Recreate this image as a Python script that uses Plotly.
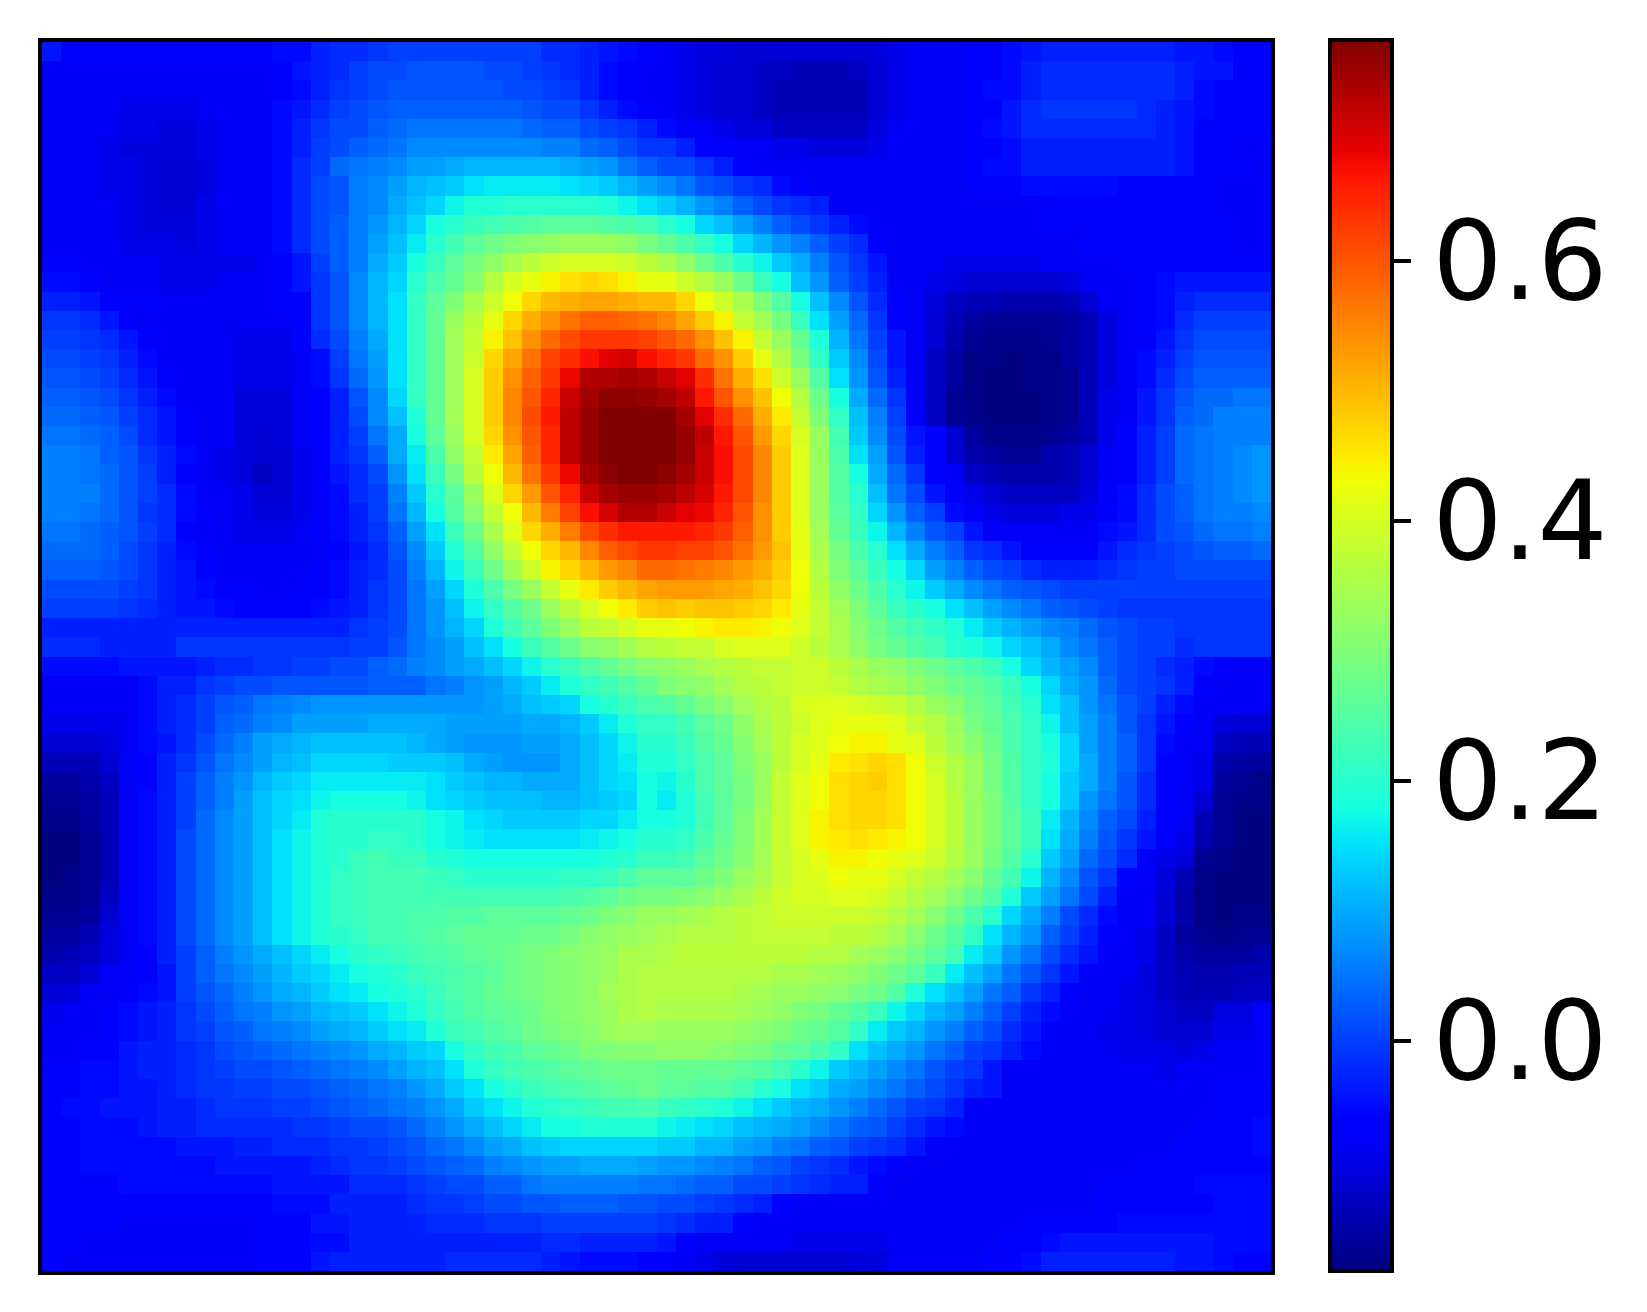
import plotly.graph_objects as go

TICK_VALUES = [0.0, 0.2, 0.4, 0.6]
TICK_LABELS = ["0.0", "0.2", "0.4", "0.6"]
Z_MIN = -0.177
Z_MAX = 0.77

# matplotlib's jet, written as plotly stops
JET = [
    [0.0, "rgb(0,0,128)"], [0.11, "rgb(0,0,255)"], [0.125, "rgb(0,0,255)"],
    [0.34, "rgb(0,219,255)"], [0.35, "rgb(0,230,247)"], [0.375, "rgb(21,255,226)"],
    [0.64, "rgb(238,255,8)"], [0.65, "rgb(247,246,0)"], [0.66, "rgb(255,236,0)"],
    [0.89, "rgb(255,19,0)"], [0.91, "rgb(232,0,0)"], [1.0, "rgb(128,0,0)"],
]

rows = [
 [-4,-7,-7,-7,-7,-7,-7,-7,-7,-7,-7,-6,-5,-5,-3,-2,-2,-1,0,0,0,0,0,0,0,0,-2,-2,-3,-4,-5,-6, -8,-9,-10,-10,-11,-11,-11,-11,-11,-11,-11,-10,-9,-8,-8,-8,-7,-6,-5,-4,-3,-3,-3,-3,-3,-3,-3,-4,-4,-5,-6,-7],
 [-8,-8,-8,-8,-8,-8,-8,-8,-8,-8,-8,-8,-6,-4,-3,-2,0,1,1,2,2,2,2,1,1,0,-1,-2,-3,-5,-7,-8, -8,-9,-10,-11,-11,-12,-12,-13,-13,-13,-12,-11,-9,-8,-8,-8,-6,-6,-5,-3,-2,-2,-2,-2,-2,-2,-2,-3,-4,-4,-6,-7],
 [-8,-8,-8,-8,-8,-8,-8,-8,-8,-8,-8,-8,-6,-5,-3,-1,0,1,2,2,2,2,2,2,1,1,0,-1,-3,-5,-7,-8, -8,-9,-10,-11,-11,-12,-13,-13,-13,-13,-13,-11,-9,-8,-8,-8,-6,-5,-5,-3,-2,-2,-2,-2,-2,-2,-2,-3,-5,-6,-7,-7],
 [-8,-8,-8,-8,-9,-9,-9,-9,-8,-8,-8,-8,-5,-4,-2,0,1,2,3,3,3,3,3,3,3,2,1,1,-1,-3,-5,-7, -8,-9,-10,-11,-11,-12,-13,-13,-13,-13,-13,-11,-9,-8,-8,-8,-6,-6,-4,-2,-1,-1,-1,-1,-1,-2,-3,-4,-5,-6,-7,-7],
 [-8,-8,-8,-8,-9,-9,-10,-10,-9,-8,-8,-8,-5,-3,-1,1,1,3,4,5,5,5,5,5,5,4,3,3,1,0,-1,-3, -5,-8,-8,-9,-10,-10,-12,-12,-12,-12,-12,-10,-8,-8,-8,-8,-6,-5,-4,-2,-2,-2,-2,-2,-2,-2,-3,-4,-7,-7,-7,-7],
 [-8,-8,-8,-9,-10,-10,-10,-10,-9,-8,-8,-8,-5,-3,0,1,3,4,5,7,7,7,7,7,7,7,6,6,4,3,1,-1, -1,-3,-6,-7,-8,-8,-9,-9,-10,-10,-10,-9,-8,-8,-8,-8,-7,-6,-5,-3,-3,-3,-3,-3,-3,-3,-3,-4,-7,-7,-8,-8],
 [-8,-8,-8,-9,-9,-10,-11,-11,-10,-8,-8,-8,-5,-2,0,4,5,6,7,9,9,10,11,11,11,11,11,10,9,8,5,3, 1,1,-1,-3,-6,-8,-8,-8,-8,-8,-8,-8,-8,-8,-8,-8,-6,-5,-5,-3,-3,-3,-3,-3,-3,-3,-3,-4,-7,-7,-7,-8],
 [-8,-8,-8,-9,-9,-10,-11,-11,-10,-8,-8,-8,-5,-2,1,2,6,7,9,11,12,13,15,16,16,16,16,15,14,13,11,9, 7,5,2,1,-1,-2,-5,-6,-8,-8,-8,-8,-8,-8,-8,-8,-7,-7,-7,-5,-5,-5,-5,-5,-6,-6,-6,-6,-7,-8,-8,-8],
 [-8,-8,-8,-8,-9,-10,-11,-11,-9,-8,-8,-8,-5,-2,1,2,6,7,10,12,14,17,19,19,20,20,20,20,20,19,17,15, 13,11,8,6,3,1,-1,-2,-3,-8,-8,-8,-8,-8,-8,-8,-8,-8,-8,-8,-7,-7,-7,-7,-7,-7,-7,-7,-7,-8,-8,-8],
 [-8,-8,-8,-8,-9,-10,-10,-10,-9,-8,-8,-8,-5,-2,1,3,6,8,11,14,18,20,22,23,24,25,26,26,26,25,24,23, 20,18,14,12,9,6,3,1,-1,-3,-5,-8,-8,-8,-8,-8,-8,-8,-8,-8,-7,-7,-7,-7,-7,-7,-7,-7,-7,-7,-8,-8],
 [-8,-8,-8,-8,-9,-9,-9,-10,-9,-8,-8,-8,-5,-2,1,3,6,9,12,16,20,23,26,28,30,31,32,33,33,33,32,29, 27,24,21,18,14,11,8,6,3,0,-2,-7,-8,-8,-8,-8,-8,-8,-8,-8,-8,-8,-7,-7,-7,-7,-7,-7,-7,-7,-8,-8],
 [-6,-6,-8,-8,-8,-8,-9,-9,-9,-9,-9,-8,-7,-4,0,3,6,10,13,18,22,26,29,32,35,37,39,40,40,40,39,37, 35,32,28,24,20,17,13,10,6,2,-1,-4,-8,-8,-8,-9,-9,-9,-9,-9,-8,-8,-8,-8,-6,-6,-6,-6,-6,-6,-6,-6],
 [-5,-5,-7,-8,-8,-8,-9,-9,-9,-8,-8,-8,-7,-4,-1,2,7,11,14,20,24,27,31,36,40,42,44,46,47,46,44,42, 42,39,36,33,28,22,18,12,8,3,0,-3,-8,-8,-9,-10,-11,-11,-11,-11,-11,-10,-8,-8,-8,-7,-5,-4,-4,-4,-4,-4],
 [-3,-3,-4,-6,-7,-7,-8,-8,-8,-8,-8,-8,-7,-6,-1,2,7,11,15,21,26,30,35,39,43,47,50,51,52,52,51,50, 50,47,43,39,35,30,25,18,12,7,2,-2,-7,-8,-10,-12,-13,-13,-14,-14,-14,-13,-11,-8,-8,-7,-5,-3,-2,-2,-2,-2],
 [-1,-1,-2,-4,-6,-8,-8,-8,-8,-8,-8,-8,-8,-6,-1,2,7,11,15,21,27,33,37,42,47,51,54,57,59,59,58,57, 55,52,48,44,38,34,29,22,15,9,4,-1,-6,-8,-11,-13,-15,-16,-16,-16,-16,-15,-13,-10,-8,-7,-5,-2,0,0,0,0],
 [0,0,-1,-2,-4,-7,-8,-8,-8,-8,-9,-9,-9,-7,-2,1,6,10,15,21,27,34,38,44,49,54,58,61,63,63,63,62, 60,58,54,49,44,38,33,27,19,11,5,0,-4,-8,-11,-14,-16,-17,-17,-17,-16,-15,-13,-10,-8,-6,-4,-1,1,1,1,1],
 [1,1,0,-1,-3,-5,-8,-8,-8,-8,-9,-9,-9,-8,-5,0,5,9,15,21,27,34,39,47,52,57,62,64,67,69,70,67, 65,63,58,54,48,42,36,29,21,13,7,1,-4,-8,-12,-15,-17,-17,-18,-17,-17,-15,-13,-10,-8,-5,-3,0,2,2,2,2],
 [2,2,1,0,-2,-4,-7,-8,-8,-8,-9,-9,-9,-8,-5,-1,4,8,15,21,27,34,40,48,54,59,63,68,73,73,74,73, 71,69,64,57,51,46,39,33,25,15,8,2,-3,-8,-12,-15,-17,-18,-18,-17,-17,-16,-13,-10,-8,-5,-2,1,3,3,3,3],
 [3,3,2,1,-1,-3,-5,-8,-8,-8,-10,-10,-10,-8,-7,-3,2,7,14,21,27,34,40,48,55,60,65,71,74,76,76,75, 74,72,66,60,54,49,43,36,28,18,10,4,-1,-8,-12,-16,-17,-18,-18,-18,-17,-16,-13,-9,-8,-4,-1,2,4,4,5,5],
 [4,4,3,2,0,-2,-4,-7,-8,-8,-10,-10,-10,-8,-7,-3,1,7,12,19,27,34,40,48,55,61,66,72,75,77,77,77, 77,74,69,64,58,51,45,38,30,21,12,6,0,-6,-12,-16,-17,-18,-18,-18,-17,-16,-13,-9,-8,-4,-1,3,4,6,6,6],
 [5,5,4,3,1,-2,-4,-7,-8,-8,-10,-11,-10,-8,-7,-3,0,5,10,18,26,33,40,47,54,60,65,72,75,77,78,78, 78,75,72,66,60,53,47,40,33,23,13,7,1,-4,-7,-11,-15,-17,-17,-17,-16,-15,-13,-9,-7,-3,0,4,5,6,6,6],
 [6,6,5,3,2,-1,-3,-5,-8,-9,-10,-11,-11,-9,-7,-3,-1,3,10,16,24,32,38,45,52,59,65,72,75,77,78,78, 77,75,71,67,61,55,48,41,33,24,15,9,2,-3,-7,-11,-14,-15,-16,-16,-14,-13,-11,-8,-7,-3,0,4,5,6,7,8],
 [6,6,5,4,2,0,-3,-6,-8,-9,-10,-12,-11,-9,-7,-4,-2,1,8,15,22,29,37,43,50,57,63,68,74,76,77,77, 76,74,71,67,61,55,48,41,33,25,18,10,4,-1,-7,-8,-12,-13,-14,-14,-14,-13,-11,-8,-6,-3,0,4,5,6,7,8],
 [6,6,6,4,2,0,-2,-5,-8,-8,-9,-11,-11,-9,-7,-5,-2,0,6,13,20,26,33,41,47,53,60,65,71,74,75,75, 74,72,70,66,61,55,48,41,33,25,20,12,5,1,-4,-8,-9,-11,-12,-12,-12,-12,-10,-8,-5,-2,1,3,5,6,7,8],
 [6,6,5,4,2,-1,-2,-5,-7,-8,-9,-10,-10,-9,-7,-5,-3,0,5,11,18,25,31,38,43,50,56,62,67,70,73,73, 71,69,68,65,60,54,48,41,33,26,21,14,8,3,0,-5,-8,-9,-10,-10,-10,-9,-9,-6,-5,-2,1,3,5,6,6,7],
 [5,5,4,3,2,0,-2,-6,-8,-8,-9,-9,-9,-8,-7,-5,-3,-1,3,9,15,22,28,35,41,47,51,56,61,64,66,66, 66,66,65,63,59,54,48,42,34,27,22,17,11,6,2,0,-4,-8,-8,-8,-8,-8,-8,-5,-4,-2,1,2,4,5,5,6],
 [4,4,4,3,1,-1,-3,-5,-7,-8,-8,-8,-8,-8,-8,-6,-4,-2,2,7,13,19,25,32,38,43,47,50,55,59,61,63, 63,62,62,60,57,53,49,42,35,29,24,20,15,10,6,3,-1,-2,-4,-6,-7,-6,-6,-4,-2,-1,0,1,2,3,3,4],
 [3,3,3,2,1,-1,-3,-4,-6,-8,-8,-8,-8,-8,-7,-5,-3,-2,1,6,11,17,22,28,34,39,44,47,50,53,55,58, 58,57,56,55,53,51,48,43,36,30,26,22,18,14,9,6,3,1,0,-2,-3,-3,-3,-2,-1,0,0,1,1,1,1,1],
 [1,1,1,1,0,-1,-3,-4,-5,-7,-7,-8,-8,-7,-6,-5,-3,-1,1,5,9,14,19,24,29,33,38,42,45,48,50,52, 53,53,53,52,51,49,47,43,37,32,28,24,20,17,13,10,7,5,3,2,1,0,0,0,0,0,0,0,0,0,0,0],
 [0,0,0,0,-1,-2,-3,-4,-4,-5,-6,-6,-6,-6,-5,-4,-3,-1,1,5,8,12,17,21,25,28,33,37,40,43,45,48, 49,48,49,49,48,47,45,42,38,34,30,26,22,20,18,15,12,9,7,5,3,2,1,0,-1,-1,-1,-1,-1,-1,-1,-1],
 [-3,-3,-3,-3,-3,-3,-3,-3,-3,-3,-3,-3,-3,-3,-3,-3,-1,0,1,5,8,11,14,19,23,26,30,33,37,38,40,42, 42,43,44,45,45,44,43,41,38,35,31,28,25,23,21,19,16,13,11,9,7,6,4,2,1,0,0,-1,-1,-1,-1,-1],
 [-2,-2,-2,-3,-3,-3,-3,-1,-1,-1,-1,-1,-1,-1,-1,-1,0,0,2,5,7,9,12,15,18,22,25,28,31,32,34,36, 37,38,38,40,41,41,41,39,37,35,32,29,27,25,23,20,19,17,14,12,10,7,5,3,1,0,0,-2,-1,-1,-1,-1],
 [-5,-5,-5,-5,-4,-4,-4,-4,-3,-2,-2,-1,-1,0,0,1,1,3,4,6,7,9,10,12,14,17,20,22,25,27,29,31, 32,33,35,36,37,38,38,39,39,37,35,33,32,30,28,26,24,22,18,14,11,9,7,3,1,0,-2,-3,-5,-7,-8,-8],
 [-8,-8,-8,-8,-8,-5,-3,-3,-1,0,1,1,2,2,2,2,2,3,3,3,5,6,8,9,11,13,16,19,21,23,25,27, 30,31,32,34,36,37,38,39,39,38,36,35,34,32,30,28,27,25,22,18,14,10,8,4,1,0,-1,-3,-7,-8,-8,-8],
 [-8,-8,-8,-8,-8,-5,-3,-2,0,2,3,5,6,7,8,8,8,8,8,8,8,8,8,9,10,12,13,14,18,20,22,24, 25,27,29,31,34,36,37,40,41,41,40,39,38,36,33,31,28,26,23,20,15,12,8,5,2,0,-3,-5,-8,-8,-8,-8],
 [-9,-9,-9,-9,-8,-5,-3,-2,0,3,4,6,7,9,9,9,9,10,10,10,10,9,9,9,9,10,10,11,13,16,19,21, 21,23,26,28,32,35,37,39,41,42,42,42,41,38,36,33,29,27,24,21,17,12,9,6,2,-1,-4,-6,-8,-10,-11,-11],
 [-11,-11,-11,-10,-8,-5,-4,-2,1,4,6,9,10,11,12,12,12,12,12,11,10,9,8,8,8,9,9,10,12,14,17,20, 20,22,25,27,31,34,37,40,41,43,44,44,42,41,37,34,31,28,24,21,18,14,9,6,3,-1,-5,-8,-8,-12,-13,-13],
 [-13,-13,-13,-11,-8,-6,-3,-1,2,5,7,9,11,12,14,14,14,14,13,13,13,12,10,9,8,8,8,10,12,14,16,19, 19,21,24,26,30,33,37,40,42,45,46,47,46,43,39,36,33,29,25,21,19,14,10,6,3,-1,-6,-8,-9,-14,-15,-15],
 [-15,-15,-14,-12,-8,-6,-3,0,3,6,8,11,13,14,16,16,16,16,16,16,15,13,12,11,11,10,10,10,12,14,15,18, 17,20,24,26,29,33,38,41,43,46,47,48,46,43,40,36,33,29,25,21,18,13,10,6,2,-2,-6,-8,-9,-15,-16,-17],
 [-16,-16,-15,-13,-8,-5,-3,0,3,6,9,12,14,15,17,18,18,18,18,17,15,14,13,12,12,12,11,11,12,13,14,18, 16,19,23,26,29,33,38,41,43,46,47,47,46,43,40,37,33,30,25,21,18,13,8,5,2,-2,-6,-8,-11,-16,-17,-17],
 [-17,-17,-15,-13,-8,-5,-3,0,4,7,9,12,14,16,19,20,20,20,20,20,18,17,15,14,13,13,13,13,14,14,16,18, 18,19,23,26,30,34,38,41,44,46,47,47,46,43,40,37,33,30,26,22,16,11,7,3,1,-3,-7,-8,-13,-16,-18,-18],
 [-18,-18,-16,-13,-8,-5,-3,1,4,7,9,12,15,17,19,20,20,21,21,20,18,17,16,15,15,15,15,15,16,17,18,20, 20,21,24,27,30,34,38,41,44,45,46,45,44,43,40,37,33,30,26,22,15,10,6,2,-1,-4,-7,-9,-14,-16,-18,-18],
 [-18,-18,-16,-13,-8,-5,-3,1,4,7,9,12,15,17,19,20,22,23,22,22,20,19,18,18,18,18,18,18,18,19,20,22, 22,23,26,28,31,34,38,40,42,44,44,43,42,41,39,36,33,29,25,20,13,9,4,1,-2,-8,-9,-10,-16,-17,-18,-18],
 [-18,-17,-16,-13,-8,-5,-3,1,4,7,9,12,15,17,19,21,22,23,23,23,22,21,20,20,20,20,20,21,21,22,24,26, 26,26,28,30,33,35,38,40,41,43,42,42,40,38,36,34,31,27,23,17,11,7,2,-1,-7,-8,-10,-13,-17,-18,-18,-18],
 [-17,-17,-16,-12,-8,-5,-3,1,4,7,9,12,15,17,19,21,22,23,23,23,23,23,23,23,23,23,23,24,25,26,28,29, 29,30,31,33,35,37,39,40,40,41,41,40,38,36,34,31,28,25,19,13,9,5,1,-3,-8,-8,-11,-14,-17,-18,-18,-18],
 [-16,-16,-15,-11,-8,-5,-3,1,4,7,9,12,15,17,19,21,22,23,23,24,24,25,25,26,26,26,26,27,28,30,31,33, 33,34,35,36,37,38,39,39,39,39,39,38,36,34,31,28,24,20,14,10,6,1,-2,-5,-8,-8,-11,-14,-17,-18,-17,-17],
 [-15,-15,-13,-10,-8,-5,-3,1,4,7,9,12,15,17,19,20,21,23,23,24,25,26,27,27,27,28,28,29,31,32,33,34, 35,36,36,36,37,38,38,38,38,37,37,36,34,31,28,25,21,15,11,8,3,0,-3,-7,-8,-9,-12,-15,-16,-17,-16,-16],
 [-14,-13,-12,-10,-8,-6,-3,0,3,6,8,10,12,14,16,18,20,21,22,23,24,25,26,27,28,29,30,31,32,33,35,35, 36,37,37,37,37,37,37,37,36,36,34,33,31,29,26,23,16,13,8,5,1,-2,-4,-8,-8,-9,-12,-14,-15,-15,-15,-14],
 [-12,-12,-11,-8,-8,-6,-4,0,3,5,7,9,11,13,14,16,18,19,20,22,23,24,25,26,28,29,30,31,32,33,35,36, 36,36,36,36,36,36,35,35,34,33,32,30,28,26,22,16,12,9,5,2,-1,-4,-8,-8,-8,-10,-12,-13,-14,-14,-13,-13],
 [-11,-10,-8,-8,-7,-5,-4,0,2,4,6,8,10,11,13,15,16,18,19,20,22,24,25,27,28,29,30,31,32,34,35,36, 36,36,36,36,35,34,33,33,32,31,29,28,25,19,15,12,9,5,3,-1,-3,-6,-8,-8,-9,-10,-12,-13,-13,-13,-12,-12],
 [-9,-8,-8,-7,-5,-4,-3,-1,1,3,5,6,8,9,11,12,13,15,17,19,21,23,25,26,27,28,30,31,32,33,35,36, 35,35,35,35,34,33,32,30,29,27,25,22,17,14,11,9,6,3,0,-3,-5,-8,-8,-8,-9,-10,-11,-12,-12,-10,-10,-8],
 [-8,-8,-8,-6,-5,-4,-3,-1,0,2,3,5,6,7,9,10,11,13,15,16,19,22,23,25,26,28,29,30,31,33,34,34, 33,33,33,33,32,31,30,28,27,25,21,16,13,11,8,6,3,1,-2,-4,-8,-8,-8,-9,-9,-10,-11,-11,-11,-9,-9,-8],
 [-8,-8,-7,-6,-4,-3,-3,-2,-1,1,2,3,4,5,6,7,8,10,11,13,14,18,21,23,24,26,27,28,30,30,31,31, 32,32,32,31,30,29,27,26,24,21,15,12,10,8,5,3,0,-1,-3,-5,-8,-8,-8,-8,-9,-9,-9,-10,-9,-8,-8,-8],
 [-7,-6,-5,-5,-4,-3,-3,-2,-1,0,1,1,2,3,4,5,6,7,9,11,12,15,19,21,23,24,25,26,27,28,28,28, 27,27,27,27,26,25,23,20,17,13,11,9,7,5,2,0,-1,-4,-8,-8,-8,-8,-8,-8,-8,-8,-9,-8,-8,-8,-8,-8],
 [-6,-6,-5,-5,-4,-4,-3,-2,-1,-1,0,0,1,1,2,3,4,5,6,8,10,13,15,18,20,22,23,24,25,26,27,28, 26,26,25,25,23,20,18,15,13,10,9,7,5,3,1,-1,-3,-4,-8,-8,-8,-8,-8,-8,-8,-8,-8,-8,-8,-7,-7,-6],
 [-6,-5,-5,-4,-4,-4,-3,-3,-2,-1,-1,-1,0,0,1,2,3,4,5,6,8,10,13,15,17,19,20,21,22,23,23,24, 22,21,20,19,17,15,13,11,10,8,6,4,2,0,-1,-3,-8,-8,-8,-8,-8,-8,-8,-8,-8,-8,-8,-8,-8,-7,-6,-6],
 [-6,-6,-5,-5,-5,-4,-3,-3,-2,-2,-2,-2,-2,-1,-1,0,1,1,2,4,6,8,10,12,14,16,18,18,19,19,19,19, 17,16,15,14,12,11,10,9,7,5,3,2,0,-2,-4,-5,-8,-8,-8,-8,-8,-8,-8,-8,-8,-8,-8,-8,-7,-7,-6,-5],
 [-6,-6,-5,-5,-5,-5,-5,-4,-4,-4,-3,-3,-2,-2,-2,-1,-1,0,1,2,4,5,7,9,10,12,13,14,14,14,14,14, 13,13,11,11,9,8,6,5,3,2,0,-1,-2,-4,-7,-8,-8,-8,-8,-8,-8,-8,-8,-8,-8,-8,-8,-7,-7,-6,-6,-5],
 [-6,-6,-5,-5,-5,-5,-5,-5,-5,-4,-4,-4,-4,-4,-3,-2,-1,-1,0,1,2,3,4,6,7,8,9,9,10,10,10,9, 8,8,7,6,5,3,2,0,-1,-2,-4,-5,-7,-8,-8,-8,-8,-8,-8,-8,-8,-8,-8,-8,-8,-7,-7,-7,-7,-6,-6,-6],
 [-6,-6,-6,-6,-5,-5,-5,-5,-5,-5,-5,-5,-4,-4,-4,-4,-2,-2,-2,-1,0,1,1,3,3,5,6,6,6,6,6,5, 5,4,3,3,1,1,0,-1,-2,-3,-3,-7,-8,-8,-8,-8,-8,-8,-8,-8,-8,-8,-8,-7,-7,-6,-6,-6,-5,-5,-5,-5],
 [-6,-6,-7,-7,-7,-7,-7,-7,-7,-7,-7,-7,-5,-5,-5,-3,-3,-3,-3,-2,-1,-1,0,1,1,2,2,3,3,3,2,2, 1,1,0,-1,-2,-3,-7,-8,-8,-8,-8,-8,-8,-8,-8,-8,-8,-8,-8,-8,-8,-8,-8,-7,-6,-6,-6,-6,-6,-5,-5,-5],
 [-6,-6,-6,-6,-8,-8,-8,-8,-8,-8,-8,-7,-6,-6,-4,-4,-3,-3,-3,-3,-2,-2,-2,-1,-1,-1,0,0,0,0,0,0, -1,-2,-3,-3,-7,-8,-8,-8,-8,-8,-8,-8,-8,-8,-8,-8,-8,-8,-8,-7,-6,-6,-6,-6,-5,-5,-5,-5,-5,-5,-5,-5],
 [-6,-6,-8,-8,-8,-8,-8,-8,-8,-8,-8,-7,-7,-7,-5,-5,-3,-3,-3,-3,-3,-3,-3,-3,-3,-3,-2,-2,-3,-3,-3,-3, -4,-7,-8,-8,-8,-8,-8,-9,-9,-9,-9,-9,-8,-8,-8,-8,-8,-8,-7,-6,-5,-4,-4,-4,-4,-4,-4,-4,-4,-5,-5,-5],
 [-6,-8,-8,-8,-8,-8,-8,-8,-8,-8,-8,-6,-6,-6,-4,-3,-3,-3,-3,-3,-3,-2,-2,-2,-2,-2,-3,-4,-5,-5,-5,-7, -7,-8,-9,-10,-11,-11,-11,-11,-11,-11,-10,-10,-8,-8,-8,-8,-8,-7,-6,-5,-3,-3,-3,-3,-3,-3,-3,-4,-4,-5,-6,-7],
]

for i, r in enumerate(rows):
    assert len(r) == 64, f"row {i} has {len(r)} cells"
assert len(rows) == 64, len(rows)

z = [[v / 100 for v in r] for r in rows]

fig = go.Figure(go.Heatmap(
    z=z, colorscale=JET, zmin=Z_MIN, zmax=Z_MAX, zsmooth=False,
    colorbar=dict(
        x=1.048, xanchor="left", xpad=0, y=0.5008, yanchor="middle", ypad=0,
        thickness=62, thicknessmode="pixels", len=1231, lenmode="pixels",
        outlinecolor="black", outlinewidth=4,
        tickmode="array", tickvals=TICK_VALUES, ticktext=TICK_LABELS,
        ticks="outside", ticklen=17, tickwidth=4, tickcolor="black",
        tickfont=dict(family="DejaVu Sans", size=110, color="black"),
    ),
))
fig.update_xaxes(showticklabels=False, ticks="", showgrid=False, zeroline=False,
                 showline=True, mirror=True, linecolor="black", linewidth=4)
fig.update_yaxes(showticklabels=False, ticks="", showgrid=False, zeroline=False,
                 showline=True, mirror=True, linecolor="black", linewidth=4,
                 autorange="reversed")
# the page's own 8px body margin is taken off the figure size and margins
fig.update_layout(width=1639, height=1304, paper_bgcolor="white", plot_bgcolor="white",
                  margin=dict(l=34, r=376, t=34, b=41, autoexpand=False))
fig.write_html("out.html")
